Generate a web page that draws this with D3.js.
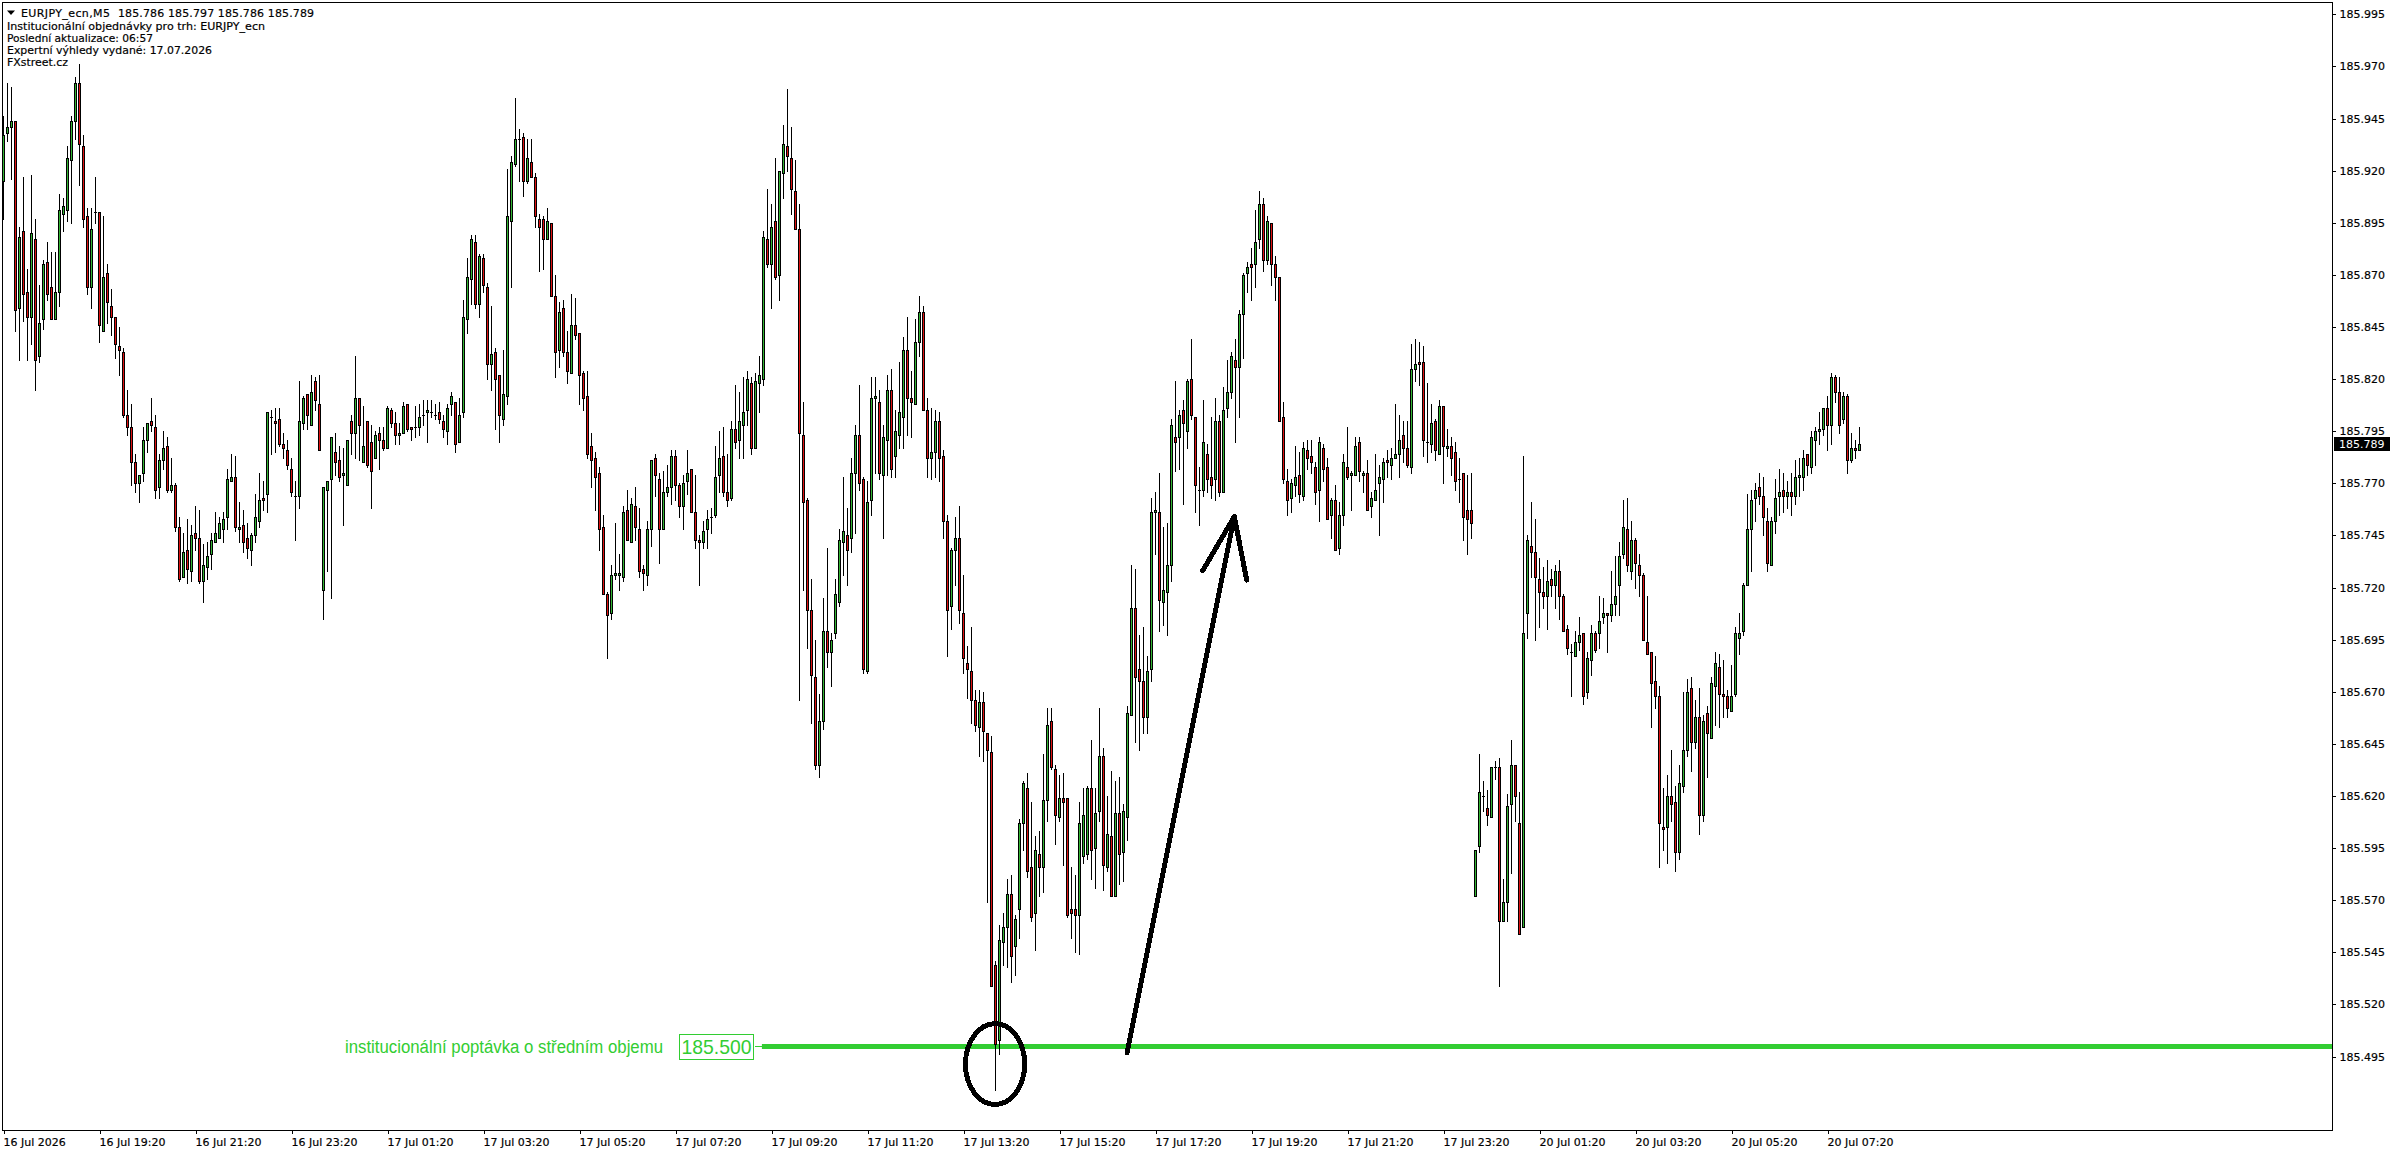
<!DOCTYPE html>
<html>
<head>
<meta charset="utf-8">
<script src="https://cdn.jsdelivr.net/npm/d3@7"></script>
<style>
html,body{margin:0;padding:0;background:#fff;overflow:hidden}
svg{display:block}
text{font-family:"DejaVu Sans",sans-serif;font-size:11px;fill:#000}
.ink{stroke:currentColor;stroke-width:.18px}
</style>
</head>
<body>
<svg id="chart" width="2396" height="1154"></svg>
<script>
// Prices are stored in thousandths above this base (915 = 185.915)
const priceBase = 185;
const openPts = [
915,938,941,944,854,891,862,850,887,831,
849,876,864,849,862,899,901,925,944,962,
932,898,864,900,900,843,871,855,850,836,
833,803,797,780,770,775,791,800,797,768,
781,788,767,769,749,725,738,728,746,744,
723,730,736,742,744,748,754,771,773,748,
750,744,738,745,752,763,765,802,800,801,
789,786,777,764,764,799,813,798,819,808,
719,767,772,785,781,774,769,800,794,811,
780,800,790,782,794,791,787,805,799,793,
794,808,797,797,797,803,804,804,803,804,
800,795,808,809,790,804,849,868,886,856,
878,864,827,833,822,801,812,896,923,935,
936,915,924,917,897,897,887,895,860,834,
854,833,823,846,842,823,812,788,782,775,
749,717,708,726,726,725,757,742,759,748,
729,726,748,782,772,748,766,768,783,769,
759,771,777,756,743,742,748,754,755,774,
783,766,763,796,791,798,805,818,787,818,
820,887,875,896,870,919,932,926,910,892,
793,762,709,677,635,656,699,689,698,713,
742,745,744,775,793,772,680,762,811,809,
774,791,815,783,793,802,834,811,808,838,
852,805,782,785,800,783,752,711,738,744,
708,684,680,666,653,665,650,641,539,503,
550,557,573,548,566,607,624,586,564,592,
586,618,656,633,610,619,619,566,566,563,
591,592,624,595,613,639,586,601,572,612,
593,610,659,710,681,675,658,681,756,756,
713,718,731,792,792,805,795,820,802,767,
767,784,773,772,800,766,806,814,829,826,
851,871,875,875,887,904,877,895,875,869,
802,771,763,769,774,764,786,783,778,767,
787,778,755,762,739,755,778,774,774,790,
774,775,759,762,770,772,781,779,782,784,
793,787,778,825,828,828,790,789,800,784,
807,787,788,785,772,775,757,757,572,596,
620,614,610,634,634,560,569,616,635,607,
557,708,740,737,724,718,716,724,721,728,
716,700,689,687,694,698,670,685,698,698,
706,708,707,712,721,736,748,728,743,731,
726,694,689,675,668,605,605,620,617,593,
625,642,672,646,658,611,660,648,673,682,
669,668,661,669,696,699,721,748,763,768,
764,752,731,752,764,767,764,766,764,773,
773,784,778,791,795,796,806,798,821,814,
801,812,781,787,786];
const highPts = [
946,962,960,944,893,917,873,918,897,865,
877,886,881,881,909,907,932,946,965,971,
937,902,902,917,900,898,875,863,850,845,
835,815,808,784,774,797,799,811,803,784,
795,792,782,770,754,746,753,750,759,757,
741,742,746,756,754,756,777,784,783,761,
757,751,746,765,775,771,804,805,806,806,
794,791,782,771,819,812,813,822,821,822,
768,771,792,794,788,787,791,803,831,811,
807,800,798,795,797,797,807,806,804,799,
809,808,797,807,808,810,810,810,808,809,
803,808,814,809,811,858,878,889,889,880,
880,866,855,835,822,834,921,927,955,940,
938,935,935,919,899,898,902,895,870,857,
858,843,861,859,842,824,824,794,785,778,
755,718,731,751,736,759,767,763,768,758,
731,752,781,784,775,776,779,786,786,770,
774,786,777,774,745,752,757,758,788,795,
797,784,800,817,814,821,824,821,823,831,
891,911,904,926,920,942,959,941,925,904,
809,763,724,695,669,715,739,698,724,748,
773,758,782,798,817,773,771,821,821,815,
798,822,825,805,828,840,850,824,849,860,
855,811,806,805,804,786,755,739,754,759,
726,692,701,671,671,670,650,649,541,558,
564,580,582,563,609,627,631,617,601,603,
640,662,662,635,630,631,619,586,582,617,
624,625,647,624,662,643,620,632,627,629,
616,663,731,729,697,701,687,763,766,775,
749,751,801,819,805,810,820,839,802,778,
810,789,802,811,803,816,829,833,839,853,
871,876,883,901,910,907,898,895,879,869,
809,777,772,788,785,790,791,791,780,792,
789,782,763,769,761,784,797,776,792,792,
776,781,766,784,779,782,786,787,808,803,
800,800,837,839,838,836,818,808,801,810,
807,796,792,790,782,775,774,775,594,640,
627,623,634,637,638,580,621,647,635,622,
783,745,761,753,734,730,733,729,731,733,
717,702,693,699,706,698,689,702,699,716,
715,708,728,735,742,762,763,752,744,736,
727,716,689,687,673,624,630,642,625,635,
670,676,677,666,672,659,663,677,689,688,
685,671,683,701,708,722,765,767,770,775,
773,758,754,772,777,775,771,775,781,782,
786,784,795,797,804,806,812,823,822,821,
814,813,794,791,797];
const lowPts = [
897,934,916,843,829,848,829,837,815,828,
844,858,849,849,855,891,896,895,935,913,
893,861,854,895,838,843,847,841,830,822,
802,793,769,766,761,771,785,795,763,763,
777,766,766,747,723,725,722,723,738,722,
713,724,729,742,744,742,748,771,747,742,
737,734,731,742,749,757,756,784,785,788,
782,777,764,743,758,796,796,798,805,786,
705,728,715,774,771,750,769,784,782,781,
780,778,758,782,777,786,787,797,789,789,
794,795,791,792,793,798,790,802,801,799,
792,789,803,785,790,802,842,856,854,850,
862,820,815,796,790,798,808,864,922,915,
908,914,917,893,872,873,887,860,821,826,
831,818,823,839,808,805,782,768,757,738,
717,686,705,724,719,723,743,742,743,725,
719,721,740,764,732,748,764,760,762,754,
748,765,756,739,721,739,739,746,754,766,
764,759,762,787,782,782,798,784,787,804,
817,874,854,868,858,907,920,899,892,666,
719,691,655,633,629,652,682,673,696,711,
726,721,737,746,767,679,679,755,775,772,
744,774,773,773,787,787,793,792,808,831,
805,773,772,773,771,744,687,700,721,703,
679,667,655,651,639,637,569,529,479,496,
539,538,531,534,552,594,581,560,546,572,
574,608,633,597,608,587,562,552,545,544,
588,590,580,576,608,575,584,572,572,578,
579,599,659,646,642,650,650,675,736,699,
702,697,723,776,777,760,787,801,756,750,
764,766,763,762,764,766,802,811,790,802,
830,862,858,864,883,872,875,865,858,800,
770,755,756,764,761,762,777,775,760,752,
771,753,744,738,736,750,772,757,774,771,
766,757,754,762,745,761,773,772,782,773,
780,778,775,819,817,783,780,785,781,784,
770,783,774,767,761,743,736,744,572,593,
613,606,610,628,529,560,560,583,608,554,
557,696,725,695,701,710,700,716,710,705,
699,688,668,687,690,664,667,678,689,691,
703,689,704,707,707,734,728,724,720,716,
695,688,653,662,586,594,588,608,584,590,
622,639,632,643,602,608,629,648,654,653,
658,658,661,668,688,697,721,728,752,760,
745,728,731,746,755,756,758,755,760,764,
767,774,775,779,789,793,786,789,809,794,
799,775,780,782,786];
const closePts = [
937,941,944,853,888,861,850,890,829,847,
875,861,849,862,901,903,926,944,962,933,
897,864,892,900,846,869,857,850,837,834,
803,797,780,770,774,791,799,798,767,781,
787,767,769,749,724,737,729,745,744,723,
731,735,743,746,751,753,772,773,749,749,
742,739,745,754,762,762,804,802,799,789,
787,779,766,764,800,811,803,814,810,786,
768,771,792,780,773,775,791,794,811,798,
788,779,776,793,791,787,806,799,793,794,
807,796,796,797,802,803,805,804,803,801,
796,806,812,789,803,850,869,887,856,879,
865,827,832,820,803,813,898,924,935,935,
915,926,917,898,893,887,896,860,833,852,
833,824,846,841,822,811,784,781,773,748,
717,707,726,727,727,756,743,760,749,728,
727,748,781,774,748,766,768,783,769,759,
770,775,756,743,742,747,753,754,773,782,
766,762,796,790,800,804,820,787,819,822,
888,875,893,869,920,933,927,911,892,794,
761,709,678,635,656,699,689,695,717,743,
747,738,775,793,770,681,761,811,812,775,
792,815,777,795,804,834,811,809,838,852,
805,782,785,800,782,752,709,738,744,709,
686,681,666,654,665,651,642,529,501,551,
557,573,543,561,607,626,584,562,594,586,
618,654,634,611,619,617,563,564,563,607,
611,624,594,612,639,587,602,572,612,592,
613,660,710,677,675,658,680,756,757,714,
719,731,798,790,803,799,819,803,769,767,
790,772,769,800,766,805,814,831,826,851,
870,874,874,886,904,877,896,875,869,800,
772,762,770,773,765,787,782,780,766,790,
777,753,762,738,755,780,773,775,788,776,
775,757,763,767,773,780,780,782,784,791,
787,779,825,827,827,791,790,799,786,807,
788,788,782,771,772,754,753,751,594,622,
620,611,634,634,560,569,615,635,620,554,
698,743,737,725,718,716,723,721,728,716,
699,691,689,694,697,668,686,698,690,704,
708,707,712,716,735,749,731,743,732,726,
695,688,674,668,607,604,620,616,593,626,
642,670,646,658,611,656,650,674,684,669,
668,662,668,698,698,721,748,762,767,764,
754,732,752,763,766,764,766,764,773,774,
782,779,792,795,796,806,798,821,814,798,
812,781,787,786,789];

const priceTicks = [185.995,185.970,185.945,185.920,185.895,185.870,185.845,185.820,185.795,185.770,185.745,185.720,185.695,185.670,185.645,185.620,185.595,185.570,185.545,185.520,185.495];
const timeLabels = ["16 Jul 2026","16 Jul 19:20","16 Jul 21:20","16 Jul 23:20","17 Jul 01:20","17 Jul 03:20","17 Jul 05:20","17 Jul 07:20","17 Jul 09:20","17 Jul 11:20","17 Jul 13:20","17 Jul 15:20","17 Jul 17:20","17 Jul 19:20","17 Jul 21:20","17 Jul 23:20","20 Jul 01:20","20 Jul 03:20","20 Jul 05:20","20 Jul 07:20"];
const barsPerLabel = 24;
const headerSymbol = "EURJPY_ecn,M5";
const headerOHLC = "185.786 185.797 185.786 185.789";
const commentLines = ["Institucionální objednávky pro trh: EURJPY_ecn","Poslední aktualizace: 06:57","Expertní výhledy vydané: 17.07.2026","FXstreet.cz"];
const commentWidths = [258,146,205,61];
const lastPrice = 185.789;
const levelPrice = 185.500;
const levelText = "institucionální poptávka o středním objemu";
const levelStartBar = 189.6;
// annotations, in bar index and price
const ringBar = 247.9, ringPrice = 185.4914, ringBarsRadius = 7.4, ringPriceRadius = 0.0194;
const arrowShaft = [[280.9,185.4968],[307.7,185.754]];
const arrowHead = [[299.8,185.7281],[307.7,185.754],[310.8,185.7236]];

const colors = {up:"#32b432", down:"#dd1111", level:"#32cd32", ink:"#000"};

[openPts,highPts,lowPts,closePts].forEach(a=>{ if(a.length!==openPts.length) throw new Error("length mismatch "+a.length); });
const bars = openPts.map((o,i)=>({i,o:priceBase+o/1000,h:priceBase+highPts[i]/1000,l:priceBase+lowPts[i]/1000,c:priceBase+closePts[i]/1000}));

const plot = {left:2, top:2, right:2332, bottom:1130};
const x = d3.scaleLinear().domain([0,464]).range([3.5,1859.5]);
const y = d3.scaleLinear().domain([185.995,185.495]).range([14.3,1056.55]);
const px = v => Math.round(y(v));

const svg = d3.select("#chart");
svg.append("rect").attr("width",2396).attr("height",1154).attr("fill","#fff");

// level line (behind candles)
svg.append("rect").attr("x",x(levelStartBar)).attr("width",plot.right-x(levelStartBar))
  .attr("y",px(levelPrice)-2).attr("height",5).attr("fill",colors.level);

// candles
const g = svg.append("g").attr("shape-rendering","crispEdges");
g.selectAll("line.wick").data(bars).join("line").attr("class","wick")
  .attr("x1",d=>x(d.i)).attr("x2",d=>x(d.i))
  .attr("y1",d=>px(d.h)).attr("y2",d=>px(d.l)+1)
  .attr("stroke",colors.ink).attr("stroke-width",1);
g.selectAll("rect.body").data(bars).join("rect").attr("class","body")
  .attr("x",d=>x(d.i)-1.5).attr("width",3)
  .attr("y",d=>px(Math.max(d.o,d.c)))
  .attr("height",d=>px(Math.min(d.o,d.c))-px(Math.max(d.o,d.c))+1)
  .attr("fill",colors.ink);
g.selectAll("rect.fill").data(bars.filter(d=>d.o!==d.c)).join("rect").attr("class","fill")
  .attr("x",d=>x(d.i)-0.5).attr("width",1)
  .attr("y",d=>px(Math.max(d.o,d.c))+1)
  .attr("height",d=>Math.max(0,px(Math.min(d.o,d.c))-px(Math.max(d.o,d.c))-1))
  .attr("fill",d=>d.c>d.o?colors.up:colors.down);

// frame
const frame = svg.append("g").attr("shape-rendering","crispEdges").attr("stroke",colors.ink).attr("fill","none");
frame.append("path").attr("d",`M${plot.left+.5},${plot.bottom+.5}V${plot.top+.5}H${plot.right+.5}V${plot.bottom+.5}H${plot.left+.5}`);

// axes
const yAxis = d3.axisRight(y).tickValues(priceTicks).tickSize(3).tickPadding(4).tickFormat(d3.format(".3f"));
const ya = svg.append("g").attr("transform",`translate(${plot.right+.5},0)`).call(yAxis);
ya.select(".domain").remove();
ya.selectAll("line").attr("shape-rendering","crispEdges").attr("stroke",colors.ink);
ya.selectAll("text").style("font-size","11px").style("fill","#000").style("font-family",'"DejaVu Sans"').attr("class","ink");

const timeIdx = timeLabels.map((_,k)=>k*barsPerLabel);
const xAxis = d3.axisBottom(x).tickValues(timeIdx).tickSize(3).tickPadding(4).tickFormat((_,k)=>timeLabels[k]);
const xa = svg.append("g").attr("transform",`translate(0,${plot.bottom+1})`).call(xAxis);
xa.select(".domain").remove();
xa.selectAll("line").attr("shape-rendering","crispEdges").attr("stroke",colors.ink);
xa.selectAll("text").attr("text-anchor","start").style("font-size","11px").style("fill","#000").style("font-family",'"DejaVu Sans"').attr("class","ink").attr("dx",-0.5);

// last price tag
const tagY = px(lastPrice);
svg.append("rect").attr("x",2334).attr("y",tagY-7).attr("width",56).attr("height",14).attr("fill","#000");
svg.append("text").attr("x",2339).attr("y",tagY+4).text(lastPrice.toFixed(3)).style("fill","#fff");

// header
svg.append("path").attr("d","M7,10.5H15L11,15Z").attr("fill","#000");
svg.append("text").attr("class","ink").attr("x",21).attr("y",17).attr("textLength",89).text(headerSymbol);
svg.append("text").attr("class","ink").attr("x",118).attr("y",17).attr("textLength",196).text(headerOHLC);
svg.selectAll("text.comment").data(commentLines).join("text").attr("class","comment ink")
  .attr("x",7).attr("y",(d,i)=>30+i*12)
  .attr("textLength",(d,i)=>commentWidths[i]).attr("lengthAdjust","spacingAndGlyphs").text(d=>d);

// level label
const levelX0 = x(levelStartBar);
svg.append("line").attr("x1",levelX0-7).attr("x2",levelX0).attr("y1",px(levelPrice)+.5).attr("y2",px(levelPrice)+.5)
  .attr("stroke",colors.level).attr("shape-rendering","crispEdges");
svg.append("rect").attr("x",679.5).attr("y",px(levelPrice)-12).attr("width",74).attr("height",25)
  .attr("fill","#fff").attr("stroke",colors.level).attr("shape-rendering","crispEdges");
svg.append("text").attr("x",681.5).attr("y",px(levelPrice)+8).attr("textLength",70).attr("lengthAdjust","spacingAndGlyphs")
  .style("font-family","'Liberation Sans'").style("font-size","21px").style("fill",colors.level).text(levelPrice.toFixed(3));
svg.append("text").attr("x",345).attr("y",px(levelPrice)+7)
  .attr("textLength",318).attr("lengthAdjust","spacingAndGlyphs")
  .style("font-family","'Liberation Sans'").style("font-size","18px").style("fill",colors.level).text(levelText);

// ring
const ann = svg.append("g").attr("shape-rendering","crispEdges");
ann.append("ellipse").attr("cx",x(ringBar)).attr("cy",y(ringPrice))
  .attr("rx",x(ringBarsRadius)-x(0)).attr("ry",y(185)-y(185+ringPriceRadius))
  .attr("fill","none").attr("stroke",colors.ink).attr("stroke-width",5);
// arrow
const line = d3.line().x(d=>x(d[0])).y(d=>y(d[1]));
ann.append("path").attr("d",line(arrowShaft)).attr("fill","none").attr("stroke",colors.ink).attr("stroke-width",5).attr("stroke-linecap","round");
ann.append("path").attr("d",line(arrowHead)).attr("fill","none").attr("stroke",colors.ink).attr("stroke-width",5).attr("stroke-linecap","round").attr("stroke-linejoin","round");
</script>
</body>
</html>
